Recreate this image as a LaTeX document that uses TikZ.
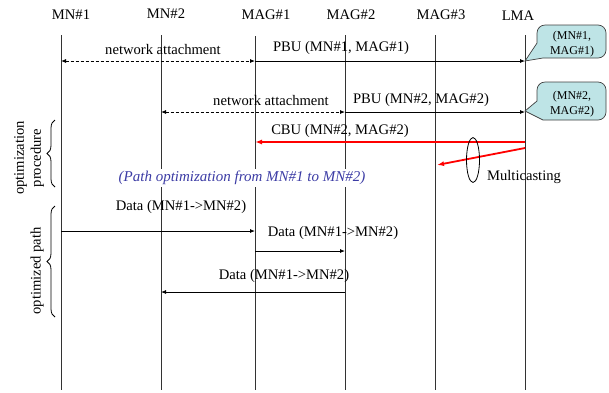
\documentclass[tikz,border=0pt]{standalone}
\usepackage{fontspec}
\setmainfont{Liberation Serif}
\usetikzlibrary{arrows.meta,decorations.pathreplacing}
\definecolor{calloutfill}{RGB}{190,228,230}
\definecolor{notecolor}{RGB}{60,60,165}
\tikzset{
  txt/.style={font=\fontsize{14.6}{17}\selectfont, inner sep=1pt},
  head/.style={txt},
  lifeline/.style={draw=black!80, line width=0.9pt},
  msg/.style={line width=0.8pt, -{Latex[length=5pt,width=4pt]}},
  attach/.style={line width=0.8pt, dash pattern=on 3pt off 2pt, {Latex[length=5pt,width=4pt]}-{Latex[length=5pt,width=4pt]}},
  redmsg/.style={draw=red, line width=1.8pt, -{Latex[length=7pt,width=5pt]}},
  bubble/.style={draw=black!75, line width=0.7pt, fill=calloutfill},
  bubbletxt/.style={font=\fontsize{12}{15}\selectfont, align=center, inner sep=0pt},
  bracestyle/.style={decorate, decoration={brace, amplitude=8pt}, line width=0.8pt},
}
\begin{document}
\begin{tikzpicture}[x=1pt, y=-1pt]
  \useasboundingbox (0,0) rectangle (609,392);

  % lifeline headers
  \node[head] (hMN1)  at (71,15)  {MN\#1};
  \node[head] (hMN2)  at (166,14) {MN\#2};
  \node[head] (hMAG1) at (266,15) {MAG\#1};
  \node[head] (hMAG2) at (351,15) {MAG\#2};
  \node[head] (hMAG3) at (441,15) {MAG\#3};
  \node[head] (hLMA)  at (518,16) {LMA};

  % lifeline ends
  \coordinate (mn1)  at (61,35);   \coordinate (mn1b)  at (61,390);
  \coordinate (mn2)  at (161,35);  \coordinate (mn2b)  at (161,390);
  \coordinate (mag1) at (255,36);  \coordinate (mag1b) at (255,390);
  \coordinate (mag2) at (345,35);  \coordinate (mag2b) at (345,390);
  \coordinate (mag3) at (435,35);  \coordinate (mag3b) at (435,390);
  \coordinate (lma)  at (525,35);  \coordinate (lmab)  at (525,390);

  \foreach \a/\b in {mn1/mn1b, mn2/mn2b, mag1/mag1b, mag2/mag2b, mag3/mag3b, lma/lmab}
    \draw[lifeline] (\a) -- (\b);

  % attachment of MN#1 and its binding update
  \draw[attach] (mn1 |- 0,61) -- (mag1 |- 0,61);
  \node[txt] (lblNA1) at (163,49) {network attachment};
  \draw[msg] (mag1 |- 0,61) -- (lma |- 0,61);
  \node[txt] (lblPBU1) at (341,48) {PBU (MN\#1, MAG\#1)};

  % attachment of MN#2 and its binding update
  \draw[attach] (mn2 |- 0,112) -- (mag2 |- 0,112);
  \node[txt] (lblNA2) at (271,100) {network attachment};
  \draw[msg] (mag2 |- 0,112) -- (lma |- 0,112);
  \node[txt] (lblPBU2) at (421,100) {PBU (MN\#2, MAG\#2)};

  % binding caches at the LMA
  \coordinate (tip1) at (525,61);
  \draw[bubble] (tip1) -- (543,58) [rounded corners=8pt] -- (606,58) -- (606,25) -- (537,25) [sharp corners] -- (537,43) -- cycle;
  \node[bubbletxt] (cache1) at (572,44) {(MN\#1,\\MAG\#1)};
  \coordinate (tip2) at (525,111);
  \draw[bubble] (tip2) -- (543,120) [rounded corners=8pt] -- (606,120) -- (606,82) -- (537,82) [sharp corners] -- (537,101) -- cycle;
  \node[bubbletxt] (cache2) at (572,104) {(MN\#2,\\MAG\#2)};

  % corresponding binding update, multicast
  \draw[redmsg] (lma |- 0,142) -- (mag1 |- 0,142);
  \node[txt] (lblCBU) at (340,131) {CBU (MN\#2, MAG\#2)};
  \coordinate (mcast) at (437,165);
  \draw[redmsg] (lma |- 0,148) -- (mcast);
  \draw[line width=0.8pt] (473,160) ellipse [x radius=6.5, y radius=22.5];
  \node[txt] (lblMC) at (524,177) {Multicasting};

  \node[txt, fill=white, text=notecolor, font=\fontsize{15}{17}\selectfont\itshape, inner sep=2pt]
    (note) at (242,178) {(Path optimization from MN\#1 to MN\#2)};

  % data on the optimized path
  \draw[msg] (mn1 |- 0,231) -- (mag1 |- 0,231);
  \node[txt] (lblD1) at (181,207) {Data (MN\#1->MN\#2)};
  \draw[msg] (mag1 |- 0,251) -- (mag2 |- 0,251);
  \node[txt] (lblD2) at (333,233) {Data (MN\#1->MN\#2)};
  \draw[msg] (mag2 |- 0,292) -- (mn2 |- 0,292);
  \node[txt] (lblD3) at (284,276) {Data (MN\#1->MN\#2)};

  % phase braces
  \draw[bracestyle] (55,187) -- (55,120);
  \node[txt, rotate=90, align=center] (phase1) at (29,158) {optimization\\procedure};
  \draw[bracestyle] (55,317) -- (55,206);
  \node[txt, rotate=90] (phase2) at (37,271) {optimized path};
\end{tikzpicture}
\end{document}
